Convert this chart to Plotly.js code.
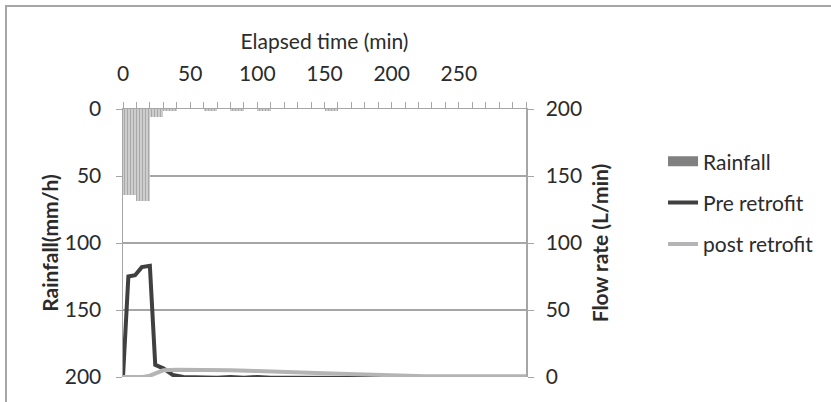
<!DOCTYPE html>
<html>
<head>
<meta charset="utf-8">
<script src="https://cdn.plot.ly/plotly-3.0.1.min.js"></script>
<style>
  html, body { margin: 0; padding: 0; background: #fff; }
  #wrap { position: relative; width: 831px; height: 402px; overflow: hidden; }
  #chart { position: absolute; left: 0; top: 0; width: 831px; height: 402px; }
  #frame { position: absolute; left: 5px; top: 5px; width: 840px; height: 395px;
           border-left: 2px solid #a6a6a6; border-top: 2px solid #a6a6a6; border-bottom: 1px solid #e0e0e0;
           pointer-events: none; }
</style>
</head>
<body>
<div id="wrap">
  <div id="chart"></div>
  <div id="frame"></div>
</div>
<script>
// Rainfall (mm/h), 10-minute blocks (centre time, value)
const rainTime  = [5, 15, 25, 35, 65, 85, 105, 155];
const rainValue = [64, 68.5, 6, 1.5, 1.2, 1.2, 1.5, 1.2];
const rainWidth = 10;

// Pre retrofit flow rate (L/min)
const preTime = [0, 4, 9, 14, 20, 24, 30, 37, 45, 55, 70, 80, 90, 100, 110, 130, 150, 170, 190, 210];
const preFlow = [0, 75, 76, 82, 83, 9, 6.5, 1.5, 0, -0.5, -0.5, 0, -0.5, 0, -0.5, -0.5, -0.5, -0.5, -0.8, -0.8];

// Post retrofit flow rate (L/min)
const postTime = [0, 15, 20, 25, 30, 40, 60, 80, 100, 117, 149, 174, 210, 225, 300];
const postFlow = [0, 0, 1, 3, 5, 5.5, 5.5, 5, 4.5, 3.7, 2.8, 2.1, 1, 0.5, 0.5];

// Tick labels
const xTickLabels = ['0', '50', '100', '150', '200', '250'];
const xTickValues = [0, 50, 100, 150, 200, 250];
const yLeftTicks = [0, 50, 100, 150, 200];
const yRightTicks = [0, 50, 100, 150, 200];

// all tick marks every 10 min, labels only at the listed values
const allTicks = [], allText = [];
for (let t = 0; t <= 300; t += 10) {
  allTicks.push(t);
  const i = xTickValues.indexOf(t);
  allText.push(i >= 0 ? xTickLabels[i] : '');
}

const FONT = 'Lato, "Open Sans", sans-serif';
const FS = 21;
const TXT = '#2b2b2b';
const AX = '#a6a6a6';

const traces = [
  {
    type: 'bar', x: rainTime, y: rainValue, width: rainWidth,
    xaxis: 'x', yaxis: 'y', showlegend: false, hoverinfo: 'skip',
    marker: { color: '#c9c9c9', line: { width: 0 },
      pattern: { shape: '|', fgcolor: '#a9a9a9', bgcolor: '#cdcdcd', size: 3, solidity: 0.35, fillmode: 'replace' } }
  },
  {
    type: 'scatter', mode: 'lines', name: 'Rainfall', x: [null], y: [null],
    xaxis: 'x', yaxis: 'y', legendgroup: 'a',
    line: { color: '#808080', width: 12 }
  },
  {
    type: 'scatter', mode: 'lines', name: 'Pre retrofit', x: preTime, y: preFlow,
    xaxis: 'x', yaxis: 'y2', legendgroup: 'b',
    line: { color: '#404040', width: 4 }
  },
  {
    type: 'scatter', mode: 'lines', name: 'post retrofit', x: postTime, y: postFlow,
    xaxis: 'x', yaxis: 'y2', legendgroup: 'c',
    line: { color: '#b4b4b4', width: 4 }
  }
];

const layout = {
  width: 831, height: 402,
  margin: { l: 123, r: 305, t: 109, b: 25, pad: 0 },
  paper_bgcolor: '#fff', plot_bgcolor: '#fff',
  font: { family: FONT, size: FS, color: TXT },
  showlegend: true,
  legend: {
    x: 1.34, y: 0.88, xanchor: 'left', yanchor: 'top',
    font: { family: FONT, size: FS, color: TXT },
    traceorder: 'grouped', tracegroupgap: 11, bgcolor: 'rgba(0,0,0,0)'
  },
  bargap: 0,
  xaxis: {
    side: 'top', range: [0, 300], type: 'linear',
    tickmode: 'array', tickvals: allTicks, ticktext: allText,
    ticks: 'outside', ticklen: 6, tickcolor: AX, tickwidth: 1,
    ticklabelstandoff: 12,
    showline: true, linecolor: AX, linewidth: 1.5,
    showgrid: false, zeroline: false,
    tickfont: { family: FONT, size: FS, color: TXT },
    title: { text: 'Elapsed time (min)', font: { family: FONT, size: FS, color: TXT }, standoff: 4 }
  },
  yaxis: {
    range: [200, 0], tickmode: 'array', tickvals: yLeftTicks,
    ticks: 'outside', ticklen: 6, tickcolor: AX,
    ticklabelstandoff: 10,
    showline: true, linecolor: AX, linewidth: 1.5,
    showgrid: true, gridcolor: AX, gridwidth: 1.2, zeroline: false,
    tickfont: { family: FONT, size: FS, color: TXT },
    title: { text: '<b>Rainfall(mm/h)</b>', font: { family: FONT, size: FS, color: TXT }, standoff: 0 }
  },
  yaxis2: {
    overlaying: 'y', side: 'right', range: [0, 200], tickmode: 'array', tickvals: yRightTicks,
    ticks: 'outside', ticklen: 6, tickcolor: AX,
    ticklabelstandoff: 8,
    showline: true, linecolor: AX, linewidth: 1.5,
    showgrid: false, zeroline: false,
    tickfont: { family: FONT, size: FS, color: TXT },
    title: { text: '<b>Flow rate (L/min)</b>', font: { family: FONT, size: FS, color: TXT }, standoff: 12 }
  }
};

Plotly.newPlot('chart', traces, layout, { staticPlot: true, displayModeBar: false });
</script>
</body>
</html>
